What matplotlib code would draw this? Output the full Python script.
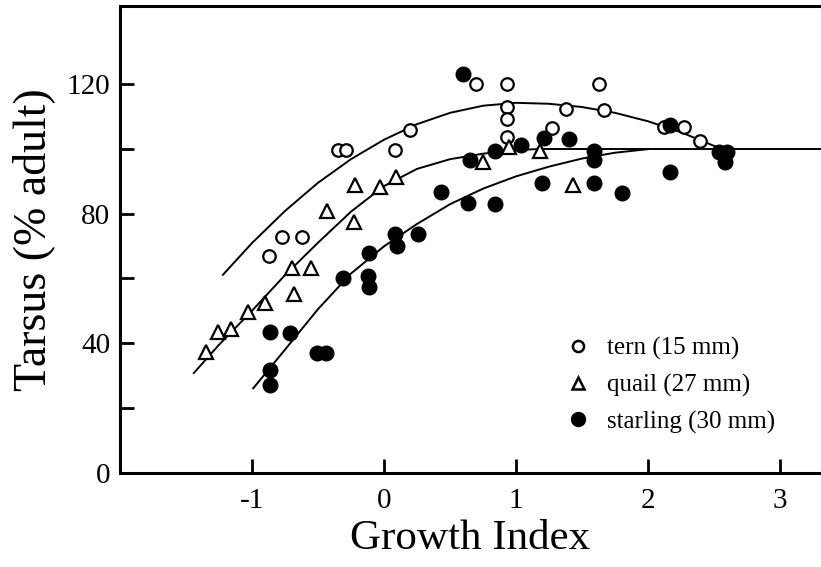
import numpy as np
import matplotlib.pyplot as plt

# ---- data ----
tern_x = [-0.87, -0.77, -0.62, -0.35, -0.29, 0.08, 0.20, 0.70, 0.93, 0.93, 0.93, 0.93,
          1.27, 1.38, 1.63, 1.67, 2.12, 2.27, 2.39]
tern_y = [67.0, 72.7, 72.7, 99.6, 99.6, 99.6, 105.8, 120.0, 120.0, 112.8, 109.2, 103.5,
          106.5, 112.2, 120.0, 111.9, 106.8, 106.8, 102.5]

quail_x = [-1.35, -1.26, -1.16, -1.03, -0.90, -0.70, -0.68, -0.55, -0.43, -0.23, -0.22,
           -0.03, 0.09, 0.75, 0.95, 1.18, 1.43]
quail_y = [37.2, 43.4, 44.4, 49.7, 52.3, 63.3, 55.2, 63.3, 80.8, 77.5, 88.8,
           88.1, 91.2, 96.0, 100.6, 99.4, 88.8]

starling_x = [-0.86, -0.86, -0.86, -0.71, -0.51, -0.44, -0.31, -0.12, -0.11, -0.11,
              0.08, 0.10, 0.26, 0.43, 0.60, 0.64, 0.65, 0.84, 0.84, 1.04, 1.20, 1.21,
              1.40, 1.59, 1.59, 1.59, 1.80, 2.17, 2.17, 2.54, 2.58, 2.60]
starling_y = [27.1, 31.8, 43.6, 43.3, 37.1, 37.1, 60.2, 60.7, 57.3, 67.7,
              73.6, 70.0, 73.6, 86.7, 123.2, 83.4, 96.7, 99.4, 82.9, 101.1, 89.5, 103.2,
              102.9, 99.4, 96.5, 89.5, 86.4, 107.3, 92.9, 99.1, 96.0, 99.1]

# fitted curves
tern_fit_x = [-1.22, -1.0, -0.75, -0.5, -0.25, 0, 0.25, 0.5, 0.75, 1.0, 1.25, 1.5,
              1.75, 2.0, 2.25, 2.5, 2.6]
tern_fit_y = [61.1, 70.9, 80.8, 89.5, 96.8, 102.8, 107.6, 111.1, 113.3, 114.2, 113.9,
              112.9, 111.1, 108.5, 105.1, 100.9, 100]
quail_fit_x = [-1.44, -1.25, -1.0, -0.75, -0.5, -0.25, 0, 0.25, 0.5, 0.75, 1.0, 1.2]
quail_fit_y = [30.8, 39.5, 50.0, 61.0, 71.0, 80.6, 88.5, 93.8, 96.8, 98.5, 99.6, 100]
starling_fit_x = [-0.99, -0.75, -0.5, -0.25, 0, 0.25, 0.5, 0.75, 1.0, 1.25, 1.5, 1.75, 2.0]
starling_fit_y = [26.1, 38.0, 50.5, 61.5, 69.9, 76.8, 82.9, 87.7, 91.5, 94.5, 97.0, 98.8,
                  99.9]
adult_level = 100

labels = ['tern (15 mm)', 'quail (27 mm)', 'starling (30 mm)']

plt.rcParams['font.family'] = ['Liberation Serif', 'DejaVu Serif']
plt.rcParams['axes.unicode_minus'] = False

fig = plt.figure(figsize=(8.21, 5.67), dpi=100)
ax = fig.add_axes([0.146, 0.166, 0.854, 0.823])
xmax = 3.31

lw = 1.4
ax.plot(tern_fit_x, tern_fit_y, color='black', lw=lw)
ax.plot(quail_fit_x, quail_fit_y, color='black', lw=lw)
ax.plot(starling_fit_x, starling_fit_y, color='black', lw=lw)
ax.plot([quail_fit_x[-1], xmax], [adult_level, adult_level], color='black', lw=lw)

ax.plot(tern_x, tern_y, 'o', ms=9, mfc='white', mec='black', mew=1.6, ls='none')
ax.plot(quail_x, quail_y, '^', ms=10, mfc='white', mec='black', mew=1.6, ls='none')
ax.plot(starling_x, starling_y, 'o', ms=10.5, mfc='black', mec='black', ls='none')

# legend proxies (smaller markers than the data)
h1, = ax.plot([], [], 'o', ms=8, mfc='white', mec='black', mew=1.8)
h2, = ax.plot([], [], '^', ms=8.5, mfc='white', mec='black', mew=1.8)
h3, = ax.plot([], [], 'o', ms=10, mfc='black', mec='black')
ax.legend([h1, h2, h3], labels, loc='center left', bbox_to_anchor=(0.6355, 0.188),
          frameon=False, fontsize=18, handlelength=1.0, handletextpad=0.66,
          labelspacing=0.55, borderpad=0, borderaxespad=0)

ax.set_xlim(-2.0, xmax)
ax.set_ylim(0, 144)
ax.set_xticks([-1, 0, 1, 2, 3])
ax.set_yticks(np.arange(0, 121, 20))
ax.set_yticklabels(['0', '', '40', '', '80', '', '120'])
ax.tick_params(direction='in', length=10, width=2, labelsize=21)
ax.tick_params(axis='y', pad=7)
ax.tick_params(axis='x', pad=11)

for side in ['left', 'bottom', 'top']:
    ax.spines[side].set_linewidth(2.2)
ax.spines['right'].set_visible(False)

ax.set_xlabel('Growth Index', fontsize=31, labelpad=4)
ax.set_ylabel('Tarsus (% adult)', fontsize=33, labelpad=8)

fig.savefig('out.png', dpi=100)
